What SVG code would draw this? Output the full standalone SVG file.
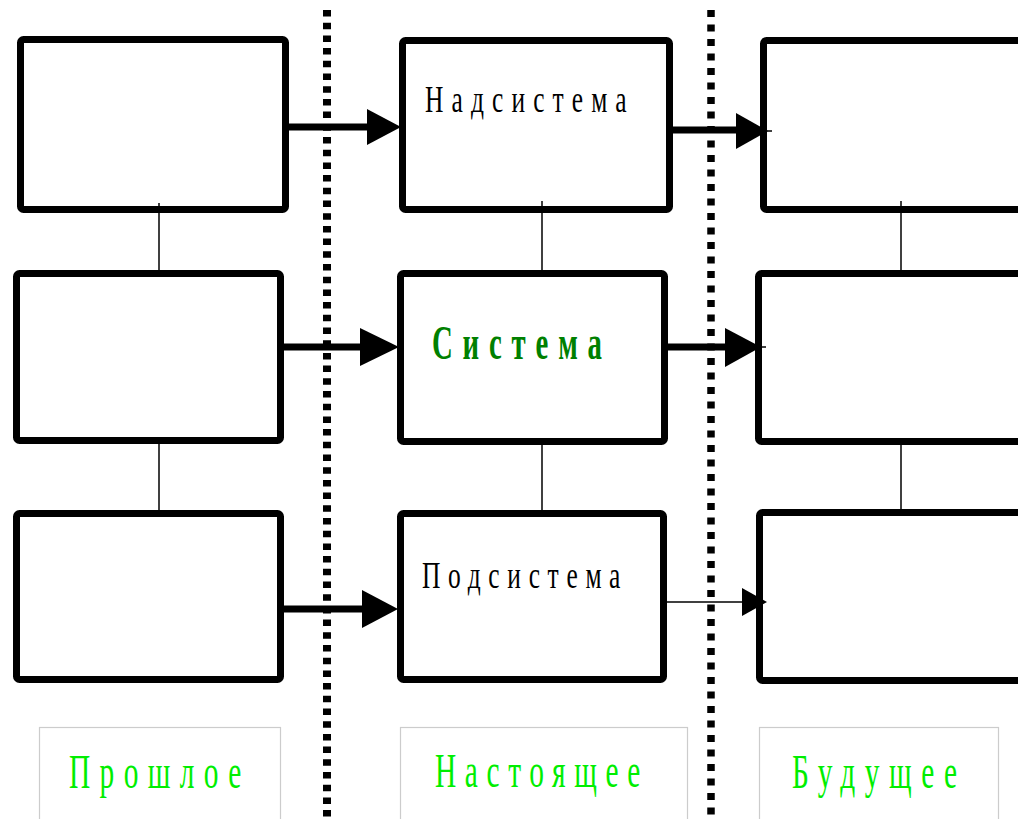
<svg xmlns="http://www.w3.org/2000/svg" width="1018" height="819" viewBox="0 0 1018 819">
<style>
.box{fill:#fff;stroke:#000;stroke-width:7;stroke-linejoin:round}
.lbl{fill:#fff;stroke:#cccccc;stroke-width:1.2}
.thin{stroke:#000;stroke-width:1.5;fill:none}
.thick{stroke:#000;stroke-width:7;fill:none}
.head{fill:#000}
.t{font-family:"Liberation Serif","Times New Roman",serif}
.black{fill:#000;font-size:38px}
.sys{fill:#008000;font-size:48px;font-weight:bold}
.green{fill:#00ee00;font-size:49px}
</style>
<rect width="1018" height="819" fill="#fff"/>
<g id="dividers">
<line x1="327" y1="10" x2="327" y2="819" stroke="#000" stroke-width="8" stroke-dasharray="6.5 6.2"/>
<line x1="711" y1="10" x2="711" y2="819" stroke="#000" stroke-width="7.5" stroke-dasharray="7 7.5"/>
</g>
<g id="past-super"><rect class="box" x="20.5" y="39.5" width="265" height="170" rx="3"/></g>
<g id="past-system"><rect class="box" x="16.5" y="273.5" width="264" height="167" rx="3"/></g>
<g id="past-sub"><rect class="box" x="16.5" y="513.5" width="264" height="166" rx="3"/></g>
<g id="nadsistema"><rect class="box" x="402.5" y="40.5" width="267" height="169" rx="3"/>
<text class="t black" transform="translate(425,112) scale(0.67,1)" textLength="301" lengthAdjust="spacing">Надсистема</text></g>
<g id="sistema"><rect class="box" x="400.5" y="273.5" width="264" height="168" rx="3"/>
<text class="t sys" transform="translate(432,359) scale(0.6,1)" textLength="283" lengthAdjust="spacing">Система</text></g>
<g id="podsistema"><rect class="box" x="400.5" y="513.5" width="263" height="166" rx="3"/>
<text class="t black" transform="translate(422,588) scale(0.67,1)" textLength="296" lengthAdjust="spacing">Подсистема</text></g>
<g id="future-super"><rect class="box" x="763.5" y="40.5" width="280" height="169" rx="3"/></g>
<g id="future-system"><rect class="box" x="758.5" y="273.5" width="285" height="168" rx="3"/></g>
<g id="future-sub"><rect class="box" x="759.5" y="512.5" width="284" height="168" rx="3"/></g>
<g id="connectors">
<line class="thin" x1="159" y1="203" x2="159" y2="273"/>
<line class="thin" x1="159" y1="441" x2="159" y2="513"/>
<line class="thin" x1="542" y1="201" x2="542" y2="273"/>
<line class="thin" x1="542" y1="442" x2="542" y2="513"/>
<line class="thin" x1="901" y1="201" x2="901" y2="273"/>
<line class="thin" x1="901" y1="442" x2="901" y2="512"/>
<line class="thick" x1="289" y1="127" x2="370" y2="127"/>
<polygon class="head" points="367,109 401,127 367,145"/>
<line class="thick" x1="673" y1="130" x2="740" y2="130"/>
<polygon class="head" points="736,113 768,131 736,149"/>
<line class="thin" x1="760" y1="131" x2="772" y2="131"/>
<line class="thick" x1="284" y1="347" x2="365" y2="347"/>
<polygon class="head" points="360,328 399,347 360,366"/>
<line class="thick" x1="668" y1="347" x2="730" y2="347"/>
<polygon class="head" points="725,328 761,347 725,367"/>
<line class="thin" x1="758" y1="347" x2="766" y2="347"/>
<line class="thick" x1="284" y1="609" x2="365" y2="609"/>
<polygon class="head" points="362,590 398,609 362,628"/>
<line class="thin" x1="667" y1="602" x2="745" y2="602"/>
<polygon class="head" points="742,588 767,602 742,616"/>
</g>
<g id="label-past"><rect class="lbl" x="39.5" y="727.5" width="241" height="110"/>
<text class="t green" transform="translate(69,788) scale(0.6,1)" textLength="287" lengthAdjust="spacing">Прошлое</text></g>
<g id="label-present"><rect class="lbl" x="400.5" y="727.5" width="287" height="110"/>
<text class="t green" transform="translate(435,787) scale(0.6,1)" textLength="342" lengthAdjust="spacing">Настоящее</text></g>
<g id="label-future"><rect class="lbl" x="759.5" y="727.5" width="239" height="110"/>
<text class="t green" transform="translate(792,788) scale(0.6,1)" textLength="275" lengthAdjust="spacing">Будущее</text></g>
</svg>
